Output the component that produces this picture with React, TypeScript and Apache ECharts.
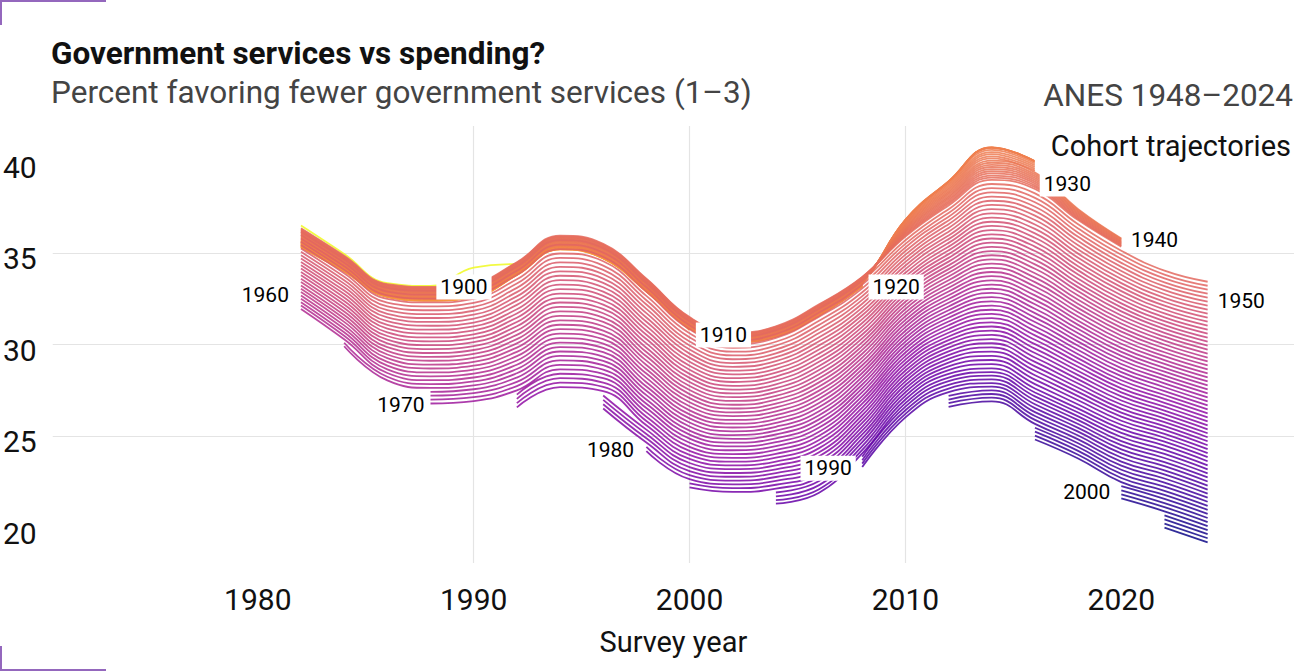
import React, { useEffect, useRef } from "react";
import * as echarts from "echarts";

// Survey waves on which the smoothed cohort curves are sampled
const surveyYears = [1982, 1984, 1986, 1988, 1990, 1992, 1994, 1996, 1998, 2000, 2002, 2004, 2006, 2008, 2010, 2012, 2014, 2016, 2018, 2020, 2022, 2024];

// Cohort 1900 (yellow, ends 1992), values 1982..1992
const cohort1900 = [36.5, 34.95, 33.35, 33.2, 34.2, 34.4];

// Anchor cohort trajectories (percent), one value per survey year
const cohort1901 = [35.3, 34.0, 32.6, 32.4, 32.6, 33.8, 35.2, 34.7, 32.9, 30.8, 30.1, 30.4, 31.5, 33.0, 36.9, 39.0, 40.9, 40.1, 37.9, 36.2, 34.9, 34.3];
const cohort1925 = [35.7, 34.3, 32.8, 32.6, 32.8, 34.0, 35.4, 34.9, 33.1, 31.0, 30.2, 30.5, 31.7, 33.4, 36.8, 38.9, 40.75, 40.0, 37.8, 36.1, 34.8, 34.2];
const cohort1940 = [36.35, 34.85, 33.3, 33.15, 33.35, 34.5, 35.95, 35.5, 33.6, 31.5, 30.65, 31.0, 32.2, 33.7, 35.9, 37.6, 39.0, 38.5, 36.8, 35.35, 34.25, 33.65];
const cohort1985 = [28.1, 26.3, 24.2, 23.6, 23.7, 24.0, 25.0, 24.85, 23.0, 21.54, 21.33, 21.5, 22.1, 24.25, 27.0, 28.4, 28.7, 27.6, 26.5, 25.4, 24.7, 23.85];
const cohort2006 = [24.4, 22.6, 20.5, 19.9, 20.0, 20.2, 21.1, 21.0, 19.1, 17.5, 17.3, 17.5, 18.1, 20.3, 22.9, 24.2, 24.5, 23.1, 22.1, 20.7, 20.0, 19.2];
const anchorCohorts = [1901, 1925, 1940, 1985, 2006];
const anchorValues = [cohort1901, cohort1925, cohort1940, cohort1985, cohort2006];

// Waves at which newly adult cohorts enter, and last wave per cohort group
const entryWaves = [1982, 1984, 1988, 1992, 1996, 1998, 2000, 2004, 2008, 2012, 2016, 2020, 2022];
const lastWaveByCohort: [number, number][] = [[1900, 1992], [1910, 2000], [1920, 2008], [1930, 2016], [1940, 2020], [2006, 2024]];
const firstCohort = 1900;
const lastCohort = 2006;

// Colour positions on the plasma scale (1 = yellow) for cohort stops
const colourCohorts = [1900, 1901, 1940, 2006];
const colourStops = [1.0, 0.78, 0.623, 0.0];

// Direct labels: [text, year, percent]
const cohortLabels: [string, number, number][] = [
  ["1900", 1989.55, 33.14],
  ["1910", 2001.57, 30.52],
  ["1920", 2009.57, 33.14],
  ["1930", 2017.5, 38.77],
  ["1940", 2021.54, 35.71],
  ["1950", 2025.56, 32.38],
  ["1960", 1980.35, 32.7],
  ["1970", 1986.63, 26.7],
  ["1980", 1996.34, 24.24],
  ["1990", 2006.42, 23.25],
  ["2000", 2018.4, 21.94],
];

const xTicks = [1980, 1990, 2000, 2010, 2020];
const yTicks = [20, 25, 30, 35, 40];

const PLASMA = ["#0D0887", "#41049D", "#6A00A8", "#8F0DA4", "#B12A90", "#CC4778", "#E16462", "#F2844B", "#FCA636", "#FCCE25", "#F0F921"];

function hexToRgb(h: string) {
  const n = parseInt(h.slice(1), 16);
  return [(n >> 16) & 255, (n >> 8) & 255, n & 255];
}
function plasma(t: number) {
  const tt = Math.max(0, Math.min(1, t)) * (PLASMA.length - 1);
  const i = Math.min(PLASMA.length - 2, Math.floor(tt));
  const f = tt - i;
  const a = hexToRgb(PLASMA[i]);
  const b = hexToRgb(PLASMA[i + 1]);
  const c = a.map((v, k) => Math.round(v + (b[k] - v) * f));
  return `rgb(${c[0]},${c[1]},${c[2]})`;
}
function colourPos(c: number) {
  for (let i = 0; i < colourCohorts.length - 1; i++) {
    if (c >= colourCohorts[i] && c <= colourCohorts[i + 1]) {
      const w = (c - colourCohorts[i]) / (colourCohorts[i + 1] - colourCohorts[i]);
      return colourStops[i] + (colourStops[i + 1] - colourStops[i]) * w;
    }
  }
  return 0;
}

function cohortValue(c: number, yi: number) {
  for (let i = 0; i < anchorCohorts.length - 1; i++) {
    const a = anchorCohorts[i];
    const b = anchorCohorts[i + 1];
    if (c >= a && c <= b) {
      const w = (c - a) / (b - a);
      return anchorValues[i][yi] * (1 - w) + anchorValues[i + 1][yi] * w;
    }
  }
  return anchorValues[0][yi];
}

function buildSeries() {
  const series: any[] = [];
  for (let c = firstCohort; c <= lastCohort; c++) {
    const start =
      c === firstCohort
        ? surveyYears[0]
        : entryWaves.find((w) => w >= c + 18) ?? entryWaves[entryWaves.length - 1];
    const end = (lastWaveByCohort.find(([maxC]) => c <= maxC) ?? [0, 2024])[1];
    const data: number[][] = [];
    surveyYears.forEach((y, yi) => {
      if (y < start || y > end) return;
      if (c === firstCohort) data.push([y, cohort1900[yi]]);
      else data.push([y, +cohortValue(c, yi).toFixed(3)]);
    });
    series.push({
      type: "line",
      name: String(c),
      data,
      smooth: 0.45,
      symbol: "none",
      silent: true,
      z: 2,
      lineStyle: { color: plasma(colourPos(c)), width: 1.8, opacity: 0.85 },
    });
  }
  series.push({
    type: "scatter",
    name: "labels",
    silent: true,
    z: 10,
    symbol: "rect",
    symbolSize: 1,
    itemStyle: { color: "rgba(255,255,255,0)", opacity: 1 },
    emphasis: { disabled: true },
    data: cohortLabels.map(([t, x, y]) => ({ name: t, value: [x, y] })),
    label: {
      show: true,
      position: "inside",
      formatter: "{b}",
      backgroundColor: "#ffffff",
      padding: [3, 4, 1, 4],
      fontSize: 21,
      fontFamily: "Roboto",
      color: "#000",
      opacity: 1,
    },
  });
  return series;
}

const FONT = "Roboto";
const GRID = "#e4e4e4";
const CORNER = "#9467bd";

export default function App() {
  const ref = useRef<HTMLDivElement>(null);
  useEffect(() => {
    if (!ref.current) return;
    const chart = echarts.init(ref.current, undefined, { renderer: "svg" });
    chart.setOption({
      animation: false,
      backgroundColor: "#ffffff",
      textStyle: { fontFamily: FONT },
      title: [
        { text: "Government services vs spending?", left: 51, top: 37.5, padding: 0, textStyle: { fontFamily: FONT, fontWeight: "bold", fontSize: 31.5, color: "#111" } },
        { text: "Percent favoring fewer government services (1–3)", left: 51, top: 76, padding: 0, textStyle: { fontFamily: FONT, fontWeight: "normal", fontSize: 31.5, color: "#444" } },
        { text: "ANES 1948–2024", right: 1, top: 79, padding: 0, textStyle: { fontFamily: FONT, fontWeight: "normal", fontSize: 31.5, color: "#444" } },
        { text: "Cohort trajectories", right: 0, top: 123, padding: [8, 3, 10, 16], backgroundColor: "#ffffff", textStyle: { fontFamily: FONT, fontWeight: "normal", fontSize: 29, color: "#111" } },
      ],
      grid: { left: 51, right: 0, top: 126, bottom: 108, containLabel: false },
      xAxis: {
        type: "value",
        min: 1970.5,
        max: 2028,
        axisLine: { show: false },
        axisTick: { show: false, customValues: xTicks },
        axisLabel: { customValues: xTicks, fontSize: 30, color: "#111", margin: 21, fontFamily: FONT, formatter: (v: number) => String(v) },
        splitLine: { show: true, showMinLine: false, showMaxLine: false, lineStyle: { color: GRID, width: 1.2 } },
        name: "Survey year",
        nameLocation: "middle",
        nameGap: 64,
        nameTextStyle: { fontSize: 29, color: "#111", fontFamily: FONT },
      },
      yAxis: {
        type: "value",
        min: 18.07,
        max: 41.94,
        axisLine: { show: false },
        axisTick: { show: false, customValues: yTicks },
        axisLabel: {
          customValues: yTicks,
          margin: 16,
          formatter: (v: number) => `{v|${v}}`,
          rich: { v: { fontSize: 30, color: "#111", fontFamily: FONT, padding: [11, 0, 0, 0] } },
        },
        splitLine: { show: true, showMinLine: false, showMaxLine: false, lineStyle: { color: GRID, width: 1.2 } },
      },
      graphic: [
        { type: "line", shape: { x1: 0, y1: 1, x2: 106, y2: 1 }, style: { stroke: CORNER, lineWidth: 2 } },
        { type: "line", shape: { x1: 1, y1: 0, x2: 1, y2: 25 }, style: { stroke: CORNER, lineWidth: 2 } },
        { type: "line", shape: { x1: 1, y1: 646, x2: 1, y2: 671 }, style: { stroke: CORNER, lineWidth: 2 } },
        { type: "line", shape: { x1: 0, y1: 670, x2: 106, y2: 670 }, style: { stroke: CORNER, lineWidth: 2 } },
      ],
      series: buildSeries(),
    });
    return () => chart.dispose();
  }, []);
  return (
    <div
      ref={ref}
      style={{ position: "fixed", left: 0, top: 0, width: 1294, height: 671, background: "#fff" }}
    />
  );
}
